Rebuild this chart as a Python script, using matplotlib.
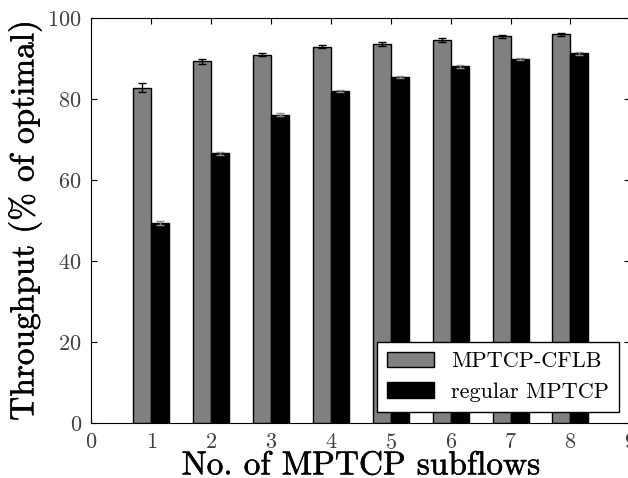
import numpy as np
import matplotlib
matplotlib.use('Agg')
import matplotlib.pyplot as plt
import matplotlib.patheffects as pe

plt.rcParams['font.family'] = ['cmr10', 'DejaVu Serif']
plt.rcParams['mathtext.fontset'] = 'cm'
plt.rcParams['axes.formatter.use_mathtext'] = True

subflows = [1, 2, 3, 4, 5, 6, 7, 8]
cflb = [82.8, 89.3, 90.95, 93.0, 93.6, 94.6, 95.5, 96.0]
cflb_err = [1.1, 0.6, 0.4, 0.4, 0.4, 0.4, 0.3, 0.3]
regular = [49.4, 66.6, 76.2, 82.0, 85.4, 88.1, 89.9, 91.3]
regular_err = [0.4, 0.3, 0.3, 0.3, 0.3, 0.3, 0.3, 0.3]

width = 0.3
x = np.array(subflows)

fig = plt.figure(figsize=(6.28, 4.78), dpi=100)
ax = fig.add_axes([0.1457, 0.115, 0.858, 0.847])

ax.bar(x - width, cflb, width, align='edge', color='0.5', edgecolor='black',
       linewidth=1, yerr=cflb_err, ecolor='black', capsize=3,
       error_kw=dict(elinewidth=1, capthick=1), label='MPTCP-CFLB')
ax.bar(x, regular, width, align='edge', color='black', edgecolor='black',
       linewidth=1, yerr=regular_err, ecolor='0.55', capsize=3,
       error_kw=dict(elinewidth=1, capthick=1), label='regular MPTCP')

ax.set_xlim(0, 9)
ax.set_ylim(0, 100)
ax.set_xticks(range(0, 10))
ax.set_yticks(range(0, 101, 20))
ax.tick_params(direction='in', length=4, width=0.8, labelsize=16, pad=7,
               top=True, right=True, labelcolor='0.25')

bold = [pe.withStroke(linewidth=0.35, foreground='black')]
ax.set_xlabel('No. of MPTCP subflows', fontsize=24, labelpad=-1, path_effects=bold)
ax.set_ylabel('Throughput (% of optimal)', fontsize=24, labelpad=4, path_effects=bold)

leg = ax.legend(loc='lower right', fontsize=16, fancybox=False, framealpha=1,
                edgecolor='black', handlelength=2.1, handleheight=0.7,
                handletextpad=0.8, labelspacing=0.5, borderaxespad=0.5,
                borderpad=0.45)
leg.get_frame().set_linewidth(1)

fig.savefig('out.png', dpi=100)
